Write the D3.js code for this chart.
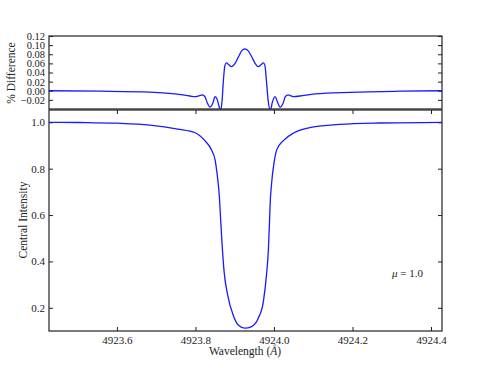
<!DOCTYPE html>
<html>
<head>
<meta charset="utf-8">
<script src="https://cdn.jsdelivr.net/npm/d3@7"></script>
<style>
  body { margin: 0; background: #fff; }
  svg { font-family: "Liberation Serif", "DejaVu Serif", serif; }
  .domain { display: none; }
  .tick line { stroke: #222; }
  .tick text { fill: #222; font-size: 11px; font-family: "Liberation Serif", "DejaVu Serif", serif; }
  .top-axis .tick text { font-size: 10.5px; }
</style>
</head>
<body>
<svg id="chart" width="491" height="368"></svg>
<script>
// wavelength grid, central intensity profile
const profileWave = [4923.427, 4923.506, 4923.600, 4923.684, 4923.755, 4923.799, 4923.824,
  4923.841, 4923.850, 4923.856, 4923.861, 4923.864, 4923.868, 4923.873, 4923.882, 4923.896,
  4923.909, 4923.926, 4923.943, 4923.960, 4923.973, 4923.981, 4923.986, 4923.989, 4923.990,
  4923.994, 4924.000, 4924.007, 4924.024, 4924.051, 4924.083, 4924.168, 4924.270, 4924.428];
const profileIntensity = [1.000, 0.999, 0.996, 0.988, 0.971, 0.955, 0.921,
  0.881, 0.838, 0.766, 0.679, 0.586, 0.471, 0.356, 0.256, 0.169,
  0.126, 0.112, 0.119, 0.155, 0.227, 0.342, 0.457, 0.586, 0.636,
  0.737, 0.823, 0.881, 0.921, 0.955, 0.974, 0.991, 0.997, 1.000];

// percent difference curve
const diffWave = [4923.427, 4923.557, 4923.684, 4923.748, 4923.786, 4923.799, 4923.809,
  4923.818, 4923.824, 4923.831, 4923.837, 4923.844, 4923.850, 4923.855, 4923.860, 4923.864,
  4923.868, 4923.871, 4923.875, 4923.879, 4923.885, 4923.892, 4923.901, 4923.910, 4923.918,
  4923.926, 4923.934, 4923.943, 4923.952, 4923.960, 4923.967, 4923.973, 4923.977, 4923.981,
  4923.985, 4923.991, 4923.996, 4924.003, 4924.009, 4924.016, 4924.023, 4924.029, 4924.036,
  4924.043, 4924.051, 4924.066, 4924.105, 4924.194, 4924.321, 4924.428];
const diffValue = [0.000, -0.001, -0.003, -0.007, -0.0115, -0.013, -0.011,
  -0.009, -0.013, -0.028, -0.036, -0.028, -0.013, -0.018, -0.034, -0.042,
  -0.020, 0.020, 0.055, 0.061, 0.057, 0.053, 0.060, 0.075, 0.088,
  0.092, 0.088, 0.075, 0.060, 0.053, 0.057, 0.061, 0.055, 0.020,
  -0.020, -0.042, -0.025, -0.013, -0.025, -0.036, -0.028, -0.013, -0.009,
  -0.011, -0.013, -0.0115, -0.007, -0.0034, -0.001, 0.000];

const xTicks = [4923.6, 4923.8, 4924.0, 4924.2, 4924.4];
const topTicks = [-0.02, 0.00, 0.02, 0.04, 0.06, 0.08, 0.10, 0.12];
const bottomTicks = [0.2, 0.4, 0.6, 0.8, 1.0];

const svg = d3.select("#chart");
const left = 49, right = 442;

const x = d3.scaleLinear().domain([4923.427, 4924.428]).range([left, right]);
const yTop = d3.scaleLinear().domain([-0.04, 0.12]).range([109, 36]);
const yBot = d3.scaleLinear().domain([0.1, 1.053]).range([331, 110]);

svg.append("clipPath").attr("id", "clip-top")
  .append("rect").attr("x", left).attr("y", 36).attr("width", right - left).attr("height", 73);
svg.append("clipPath").attr("id", "clip-bot")
  .append("rect").attr("x", left).attr("y", 110).attr("width", right - left).attr("height", 221);

// top panel
svg.append("g").attr("class", "top-axis").attr("transform", `translate(${left},0)`)
  .call(d3.axisLeft(yTop).tickValues(topTicks).tickSize(-4).tickPadding(4).tickFormat(d3.format(".2f")));
svg.append("g").attr("transform", `translate(${right},0)`)
  .call(d3.axisRight(yTop).tickValues(topTicks).tickSize(-4).tickFormat(""));

const diffPoints = diffWave.map((w, i) => [w, diffValue[i]]);
svg.append("path")
  .datum(diffPoints)
  .attr("clip-path", "url(#clip-top)")
  .attr("fill", "none")
  .attr("stroke", "#1a1aff")
  .attr("stroke-width", 1.3)
  .attr("d", d3.line().x(d => x(d[0])).y(d => yTop(d[1])).curve(d3.curveMonotoneX));

svg.append("rect").attr("x", left).attr("y", 36).attr("width", right - left).attr("height", 73)
  .attr("fill", "none").attr("stroke", "#222").attr("stroke-width", 1.2);

// bottom panel
svg.append("g").attr("transform", `translate(${left},0)`)
  .call(d3.axisLeft(yBot).tickValues(bottomTicks).tickSize(-4).tickPadding(4).tickFormat(d3.format(".1f")));
svg.append("g").attr("transform", `translate(${right},0)`)
  .call(d3.axisRight(yBot).tickValues(bottomTicks).tickSize(-4).tickFormat(""));
svg.append("g").attr("transform", "translate(0,331)")
  .call(d3.axisBottom(x).tickValues(xTicks).tickSize(-4).tickPadding(5).tickFormat(d3.format(".1f")));
svg.append("g").attr("transform", "translate(0,110)")
  .call(d3.axisTop(x).tickValues(xTicks).tickSize(-4).tickFormat(""));

const profilePoints = profileWave.map((w, i) => [w, profileIntensity[i]]);
svg.append("path")
  .datum(profilePoints)
  .attr("clip-path", "url(#clip-bot)")
  .attr("fill", "none")
  .attr("stroke", "#1a1aff")
  .attr("stroke-width", 1.3)
  .attr("d", d3.line().x(d => x(d[0])).y(d => yBot(d[1])).curve(d3.curveMonotoneX));

svg.append("rect").attr("x", left).attr("y", 110).attr("width", right - left).attr("height", 221)
  .attr("fill", "none").attr("stroke", "#222").attr("stroke-width", 1.2);

// labels
svg.append("text")
  .attr("transform", "translate(15,73) rotate(-90)")
  .attr("text-anchor", "middle")
  .attr("font-size", 11.5)
  .attr("fill", "#222")
  .text("% Difference");

svg.append("text")
  .attr("transform", "translate(27,220) rotate(-90)")
  .attr("text-anchor", "middle")
  .attr("font-size", 11.5)
  .attr("fill", "#222")
  .text("Central Intensity");

const xLabel = svg.append("text")
  .attr("x", 245).attr("y", 355)
  .attr("text-anchor", "middle")
  .attr("font-size", 11.5)
  .attr("fill", "#222");
xLabel.append("tspan").text("Wavelength (");
xLabel.append("tspan").attr("font-style", "italic").text("Å");
xLabel.append("tspan").text(")");

const mu = svg.append("text")
  .attr("x", 392).attr("y", 277)
  .attr("font-size", 11)
  .attr("fill", "#222");
mu.append("tspan").attr("font-style", "italic").text("μ");
mu.append("tspan").text(" = 1.0");
</script>
</body>
</html>
